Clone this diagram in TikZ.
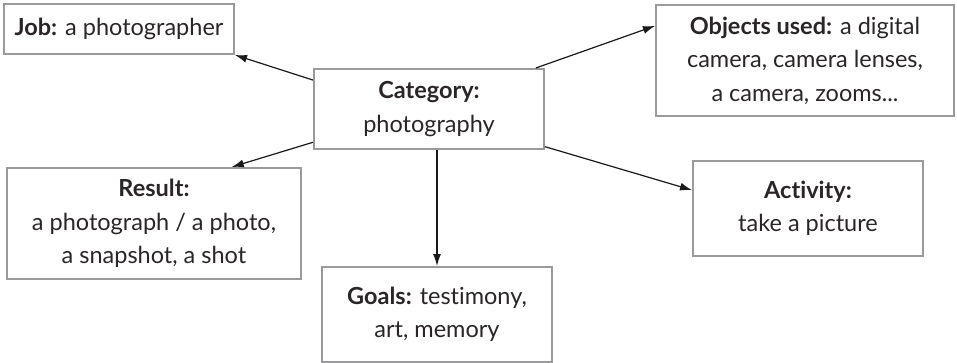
\documentclass[tikz,border=0pt]{standalone}
\usepackage{fontspec}
\setmainfont{Lato}[Ligatures={NoCommon}]
\usetikzlibrary{arrows.meta,calc}
\definecolor{boxgray}{HTML}{9A9A9C}
\definecolor{txt}{HTML}{2A2627}
\begin{document}
\begin{tikzpicture}[x=1pt,y=-1pt,
  box/.style={draw=boxgray,line width=2pt,fill=white,text=txt,align=center,
    inner sep=0pt,font=\fontsize{23.5}{33.5}\selectfont},
  conn/.style={line width=1.2pt,draw=black!90,-{Latex[length=12pt,width=8pt]}}]
\useasboundingbox (0,0) rectangle (957,363);
\node[box,minimum width=230,minimum height=50] (job) at (119,29) {\textbf{Job:} a photographer};
\node[box,minimum width=230,minimum height=80] (cat) at (429,109) {\textbf{Category:}\\photography};
\node[box,minimum width=298,minimum height=111] (obj) at (805,60.5) {\textbf{Objects used:} a digital\\camera, camera lenses,\\a camera, zooms...};
\node[box,minimum width=294,minimum height=111] (res) at (154,223.5) {\textbf{Result:}\\a photograph / a photo,\\a snapshot, a shot};
\node[box,minimum width=230,minimum height=95] (goals) at (437,314.5) {\textbf{Goals:} testimony,\\art, memory};
\node[box,minimum width=230,minimum height=95] (act) at (808,208.5) {\textbf{Activity:}\\take a picture};
\draw[conn] (cat.166) -- (job.south east);
\draw[conn] (cat.196) -- (res.36);
\draw[conn] (cat.21) -- (obj.167);
\draw[conn] (cat.-18) -- (act.171);
\draw[conn] (cat.south -| goals.north) -- (goals.north);
\end{tikzpicture}
\end{document}
